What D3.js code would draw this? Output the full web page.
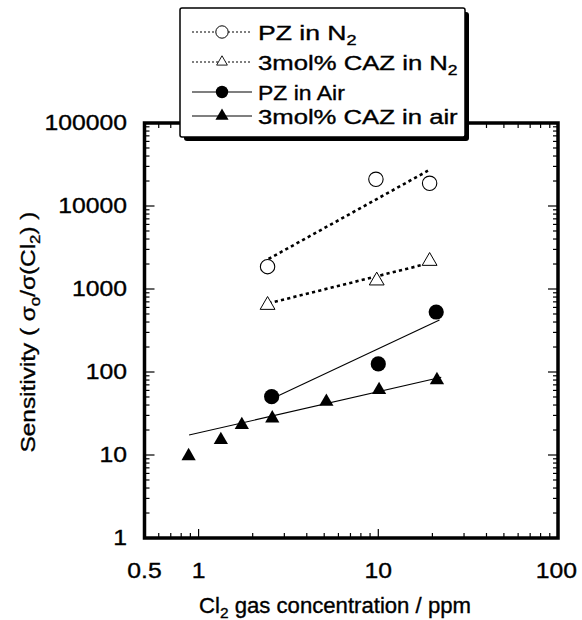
<!DOCTYPE html>
<html><head><meta charset="utf-8">
<script src="https://cdn.jsdelivr.net/npm/d3@7"></script>
<style>body{margin:0;background:#fff}svg{display:block}text{font-family:"Liberation Sans",Arial,Helvetica,sans-serif;fill:#000;stroke:#000;stroke-width:0.35px}</style>
</head><body>
<svg id="c" width="582" height="620"></svg>
<script>
// ---- data ----
const xTickValues = [0.5, 1, 10, 100];
const xTickLabels = ["0.5", "1", "10", "100"];
const yTickValues = [1, 10, 100, 1000, 10000, 100000];
const yTickLabels = ["1", "10", "100", "1000", "10000", "100000"];

const pzN2X = [2.42, 9.7, 19.3];
const pzN2Y = [1860, 20980, 18770];
const cazN2X = [2.42, 9.8, 19.3];
const cazN2Y = [640, 1260, 2170];
const pzAirX = [2.55, 10.0, 21.0];
const pzAirY = [50.4, 125, 528];
const cazAirX = [0.88, 1.33, 1.74, 2.57, 5.14, 10.1, 21.2];
const cazAirY = [9.7, 15.2, 23, 27.7, 43.9, 60.7, 80];

// fitted lines (end points)
const pzN2FitX = [2.45, 18.9];
const pzN2FitY = [2300, 26600];
const cazN2FitX = [2.45, 17.5];
const cazN2FitY = [672, 1946];
const pzAirFitX = [2.7, 21.9];
const pzAirFitY = [50.4, 423];
const cazAirFitX = [0.885, 22.4];
const cazAirFitY = [17.4, 86.3];

const legendLabels = ["PZ in N", "3mol% CAZ in N", "PZ in Air", "3mol% CAZ in air"];
const legendSubs = ["2", "2", "", ""];

// ---- drawing ----
const svg = d3.select("#c");
const L = 144.5, R = 558, T = 123, B = 538;
const x = d3.scaleLog().domain([0.5, 100]).range([L, R]);
const y = d3.scaleLog().domain([1, 1e5]).range([B, T]);

function isMajor(v){ const l = Math.log10(v); return Math.abs(l - Math.round(l)) < 1e-9; }
function stretchTo(sel, target){
  const w = sel.node().getBBox().width;
  return target / w;
}

// ticks
const g = svg.append("g").attr("stroke", "#000").attr("stroke-width", 1.2);
x.ticks().forEach(v => {
  const len = isMajor(v) ? 9 : 5;
  g.append("line").attr("x1", x(v)).attr("x2", x(v)).attr("y1", B).attr("y2", B - len);
  g.append("line").attr("x1", x(v)).attr("x2", x(v)).attr("y1", T).attr("y2", T + len);
});
y.ticks().forEach(v => {
  const len = isMajor(v) ? 10 : 5;
  g.append("line").attr("y1", y(v)).attr("y2", y(v)).attr("x1", L).attr("x2", L + len);
  g.append("line").attr("y1", y(v)).attr("y2", y(v)).attr("x1", R).attr("x2", R - len);
});

// frame
svg.append("rect").attr("x", L).attr("y", T).attr("width", R - L).attr("height", B - T)
  .attr("fill", "none").attr("stroke", "#000").attr("stroke-width", 3.5);

// tick labels
const TS = 1.15;
xTickValues.forEach((v, i) => {
  const t = svg.append("text").attr("x", 0).attr("y", 578).attr("text-anchor", "middle")
    .attr("font-size", 21.5).text(xTickLabels[i]);
  const half = t.node().getBBox().width * TS / 2;
  const cx = Math.min(x(v), 577 - half);
  t.attr("transform", `translate(${cx},0) scale(${TS},1)`);
});
yTickValues.forEach((v, i) => {
  svg.append("text").attr("x", 0).attr("y", y(v) + 7.5).attr("text-anchor", "end")
    .attr("font-size", 21.5).attr("transform", `translate(127,0) scale(${TS},1)`)
    .text(yTickLabels[i]);
});

// axis titles
const xt = svg.append("text").attr("x", 0).attr("y", 0).attr("text-anchor", "middle").attr("font-size", 21.5);
xt.append("tspan").text("Cl");
xt.append("tspan").attr("dy", 5).attr("font-size", 15).text("2");
xt.append("tspan").attr("dy", -5).text(" gas concentration / ppm");
const fx = stretchTo(xt, 272);
xt.attr("transform", `translate(335,613) scale(${fx},1)`);

const yt = svg.append("text").attr("x", 0).attr("y", 0).attr("text-anchor", "middle").attr("font-size", 21);
yt.append("tspan").text("Sensitivity ( σ");
yt.append("tspan").attr("dy", 5).attr("font-size", 14.5).text("o");
yt.append("tspan").attr("dy", -5).text("/σ(Cl");
yt.append("tspan").attr("dy", 5).attr("font-size", 14.5).text("2");
yt.append("tspan").attr("dy", -5).text(") )");
const fy = stretchTo(yt, 241);
yt.attr("transform", `translate(35,332) rotate(-90) scale(${fy},1)`);

// fit lines
const line = d3.line().x(d => x(d[0])).y(d => y(d[1]));
function fit(xs, ys, dotted){
  svg.append("path").attr("d", line(xs.map((v, i) => [v, ys[i]])))
    .attr("fill", "none").attr("stroke", "#000")
    .attr("stroke-width", dotted ? 2.6 : 1.1)
    .attr("stroke-dasharray", dotted ? "3.2,3.2" : null);
}
fit(pzN2FitX, pzN2FitY, true);
fit(cazN2FitX, cazN2FitY, true);
fit(pzAirFitX, pzAirFitY, false);
fit(cazAirFitX, cazAirFitY, false);

// markers
const tri = (s) => d3.symbol().type(d3.symbolTriangle).size(s)();
function circles(xs, ys, filled){
  xs.forEach((v, i) => svg.append("circle").attr("cx", x(v)).attr("cy", y(ys[i])).attr("r", filled ? 7.6 : 7.2)
    .attr("fill", filled ? "#000" : "#fff").attr("stroke", "#000").attr("stroke-width", filled ? 0 : 1.1));
}
function triangles(xs, ys, filled){
  xs.forEach((v, i) => svg.append("path").attr("d", tri(filled ? 88 : 95))
    .attr("transform", `translate(${x(v)},${y(ys[i])})`)
    .attr("fill", filled ? "#000" : "#fff").attr("stroke", "#000").attr("stroke-width", filled ? 0 : 1));
}
circles(pzN2X, pzN2Y, false);
triangles(cazN2X, cazN2Y, false);
circles(pzAirX, pzAirY, true);
triangles(cazAirX, cazAirY, true);

// legend
const lg = svg.append("g");
const bx = 180, by = 8, bw = 285, bh = 129;
lg.append("rect").attr("x", bx + 4).attr("y", by + 4).attr("width", bw).attr("height", bh).attr("rx", 3).attr("fill", "#000");
lg.append("rect").attr("x", bx).attr("y", by).attr("width", bw).attr("height", bh).attr("rx", 2)
  .attr("fill", "#fff").attr("stroke", "#000").attr("stroke-width", 1.5);
const rowsY = [32, 62, 92, 116];
const targets = [99, 200, 87, 200];
rowsY.forEach((ry, i) => {
  const dotted = i < 2;
  lg.append("line").attr("x1", 192).attr("x2", 252).attr("y1", ry).attr("y2", ry)
    .attr("stroke", "#000").attr("stroke-width", 1.1).attr("stroke-dasharray", dotted ? "2,2" : null);
  if (i % 2 === 0) {
    lg.append("circle").attr("cx", 222).attr("cy", ry).attr("r", 6.2)
      .attr("fill", i === 0 ? "#fff" : "#000").attr("stroke", "#000").attr("stroke-width", i === 0 ? 1 : 0);
  } else {
    lg.append("path").attr("d", tri(i === 1 ? 50 : 75)).attr("transform", `translate(222,${ry})`)
      .attr("fill", i === 1 ? "#fff" : "#000").attr("stroke", "#000").attr("stroke-width", i === 1 ? 0.9 : 0);
  }
  const t = lg.append("text").attr("x", 0).attr("y", 0).attr("font-size", 20.5);
  t.append("tspan").text(legendLabels[i]);
  if (legendSubs[i]) t.append("tspan").attr("dy", 5).attr("font-size", 14).text(legendSubs[i]);
  const f = stretchTo(t, targets[i]);
  t.attr("transform", `translate(258,${ry + 7.5}) scale(${f},1)`);
});
</script>
</body></html>
